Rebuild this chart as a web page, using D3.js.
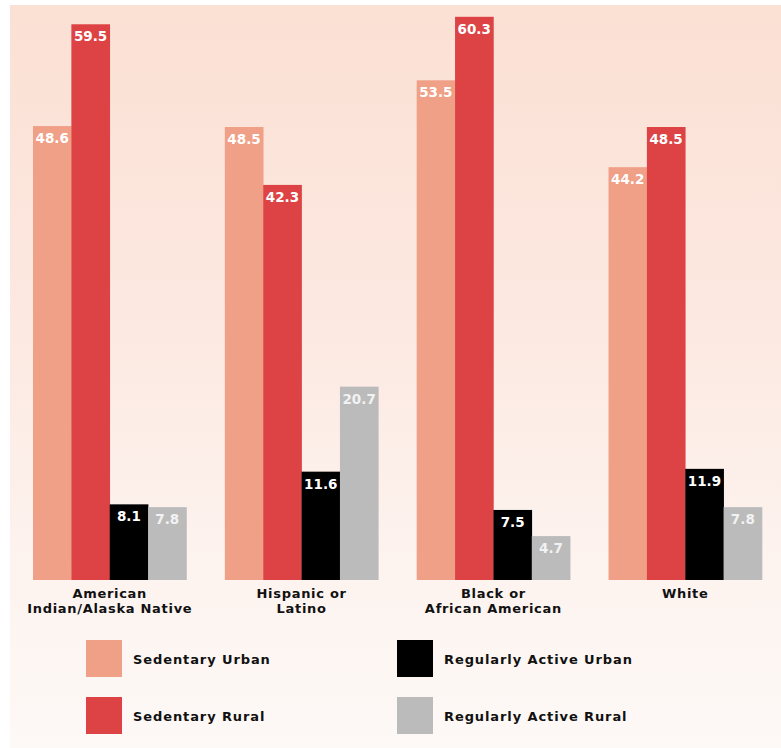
<!DOCTYPE html>
<html>
<head>
<meta charset="utf-8">
<script src="https://cdn.jsdelivr.net/npm/d3@7"></script>
<style>
  html, body { margin: 0; padding: 0; background: #ffffff; }
  svg { display: block; }
  text { font-family: "DejaVu Sans", "Liberation Sans", sans-serif; font-weight: bold; }
</style>
</head>
<body>
<svg id="chart" width="781" height="748"></svg>
<script>
const categories = [
  ["American", "Indian/Alaska Native"],
  ["Hispanic or", "Latino"],
  ["Black or", "African American"],
  ["White"]
];
const seriesNames = ["Sedentary Urban", "Sedentary Rural", "Regularly Active Urban", "Regularly Active Rural"];
const sedentaryUrban = [48.6, 48.5, 53.5, 44.2];
const sedentaryRural = [59.5, 42.3, 60.3, 48.5];
const activeUrban = [8.1, 11.6, 7.5, 11.9];
const activeRural = [7.8, 20.7, 4.7, 7.8];
const seriesColors = ["#EFA087", "#DD4345", "#000000", "#BBBBBB"];
const labelColors = ["#ffffff", "#ffffff", "#ffffff", "#f2f2f2"];

const seriesValues = [sedentaryUrban, sedentaryRural, activeUrban, activeRural];

const svg = d3.select("#chart");

// background gradient
const defs = svg.append("defs");
const grad = defs.append("linearGradient").attr("id", "bg").attr("x1", 0).attr("y1", 0).attr("x2", 0).attr("y2", 1);
grad.append("stop").attr("offset", "0%").attr("stop-color", "#FBE0D4");
grad.append("stop").attr("offset", "40%").attr("stop-color", "#FCE8E0");
grad.append("stop").attr("offset", "75%").attr("stop-color", "#FDF3EF");
grad.append("stop").attr("offset", "100%").attr("stop-color", "#FDF9F6");
svg.append("rect").attr("x", 10).attr("y", 5).attr("width", 771).attr("height", 743).attr("fill", "url(#bg)");

const x0 = d3.scaleBand().domain(d3.range(categories.length)).range([33, 762]).paddingInner(0.2).paddingOuter(0);
const x1 = d3.scaleBand().domain(d3.range(seriesNames.length)).range([0, x0.bandwidth()]).padding(0);
const y = d3.scaleLinear().domain([0, 60]).range([580, 19.6]);

const groups = svg.append("g").selectAll("g").data(categories).join("g")
  .attr("transform", (d, i) => `translate(${x0(i)},0)`);

groups.each(function(cat, ci) {
  const g = d3.select(this);
  seriesValues.forEach((vals, si) => {
    const v = vals[ci];
    g.append("rect")
      .attr("x", x1(si))
      .attr("y", y(v))
      .attr("width", x1.bandwidth() + 0.3)
      .attr("height", y(0) - y(v))
      .attr("fill", seriesColors[si]);
    g.append("text")
      .attr("x", x1(si) + x1.bandwidth() / 2)
      .attr("y", y(v) + 17)
      .attr("text-anchor", "middle")
      .attr("font-size", "13.5px")
      .attr("fill", labelColors[si])
      .text(v.toFixed(1));
  });
  const t = g.append("text")
    .attr("x", x0.bandwidth() / 2)
    .attr("y", 598)
    .attr("text-anchor", "middle")
    .attr("font-size", "13px")
    .attr("letter-spacing", "0.7px")
    .attr("fill", "#111");
  cat.forEach((line, li) => {
    t.append("tspan").attr("x", x0.bandwidth() / 2).attr("y", 598 + li * 15).text(line);
  });
});

// legend
const legendX = [86, 397];
const legendY = [640, 697];
const legendOrder = [[0, 0, 0], [1, 0, 1], [2, 1, 0], [3, 1, 1]];
const legend = svg.append("g");
legendOrder.forEach(([si, col, row]) => {
  legend.append("rect")
    .attr("x", legendX[col]).attr("y", legendY[row])
    .attr("width", 36).attr("height", 37)
    .attr("fill", seriesColors[si]);
  legend.append("text")
    .attr("x", legendX[col] + 47)
    .attr("y", legendY[row] + 24)
    .attr("font-size", "13px")
    .attr("letter-spacing", "0.9px")
    .attr("fill", "#111")
    .text(seriesNames[si]);
});
</script>
</body>
</html>
